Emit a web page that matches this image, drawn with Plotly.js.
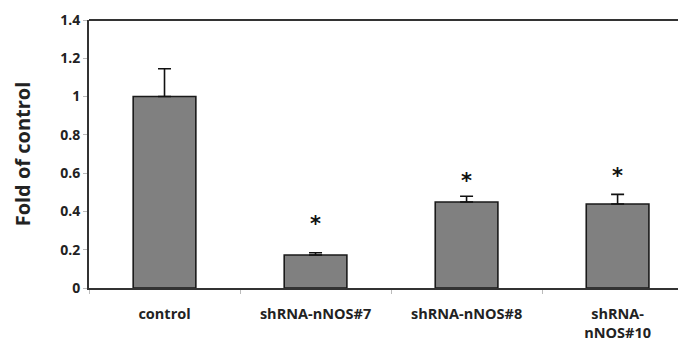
<!DOCTYPE html>
<html>
<head>
<meta charset="utf-8">
<script src="https://cdn.plot.ly/plotly-3.0.1.min.js"></script>
<style>html,body{margin:0;padding:0;background:#fff;}</style>
</head>
<body>
<div id="chart" style="width:678px;height:345px;"></div>
<script>
const categories = ["control", "shRNA-nNOS#7", "shRNA-nNOS#8", "shRNA-<br>nNOS#10"];
const values = [1.0, 0.172, 0.449, 0.439];
const errors = [0.145, 0.012, 0.03, 0.05];
const sigMarks = ["", "*", "*", "*"];
const sigY = [0, 0.334, 0.559, 0.585];
const yTicks = [0, 0.2, 0.4, 0.6, 0.8, 1, 1.2, 1.4];

const annotations = categories.map((c, i) => ({
  x: c, y: sigY[i], text: '<b>' + sigMarks[i] + '</b>', showarrow: false,
  xref: 'x', yref: 'y', yanchor: 'middle',
  font: {family: 'DejaVu Sans, sans-serif', size: 21, color: '#111'}
})).filter((a, i) => sigMarks[i]);

const trace = {
  type: 'bar', x: categories, y: values, width: 0.415,
  marker: {color: '#808080', line: {color: '#1a1a1a', width: 1.6}},
  error_y: {type: 'data', array: errors, arrayminus: errors.map(() => 0), symmetric: false,
            color: '#111', thickness: 1.6, width: 6.5},
  hoverinfo: 'none'
};

const layout = {
  width: 678, height: 345,
  margin: {l: 89, r: 0, t: 20, b: 57},
  paper_bgcolor: '#fff', plot_bgcolor: '#fff',
  showlegend: false,
  font: {family: 'Open Sans, sans-serif', color: '#222'},
  xaxis: {
    type: 'category', range: [-0.5, 3.4],
    showline: true, linecolor: '#333', linewidth: 2, mirror: false,
    ticks: 'outside', tickson: 'boundaries', ticklen: 4, tickcolor: '#bbb', tickwidth: 1,
    ticklabelstandoff: 12,
    tickfont: {family: 'Open Sans, sans-serif', size: 14.5, weight: 'bold', color: '#222'},
    showgrid: false, zeroline: false, automargin: false
  },
  yaxis: {
    range: [0, 1.4], tickvals: yTicks, ticktext: yTicks.map(String),
    showline: true, linecolor: '#333', linewidth: 2, mirror: false,
    ticks: 'outside', ticklen: 4, tickcolor: '#bbb', tickwidth: 1,
    tickfont: {family: 'Open Sans, sans-serif', size: 14, weight: 'bold', color: '#222'},
    showgrid: false, zeroline: false, automargin: false,
    title: {text: 'Fold of control', standoff: 24,
            font: {family: 'Open Sans, sans-serif', size: 20, weight: 'bold', color: '#222'}}
  },
  shapes: [{type: 'line', xref: 'paper', yref: 'paper', x0: 0, x1: 1, y0: 1, y1: 1,
            line: {color: '#333', width: 2}}],
  annotations: annotations
};

Plotly.newPlot('chart', [trace], layout, {displayModeBar: false, staticPlot: true});
</script>
</body>
</html>
